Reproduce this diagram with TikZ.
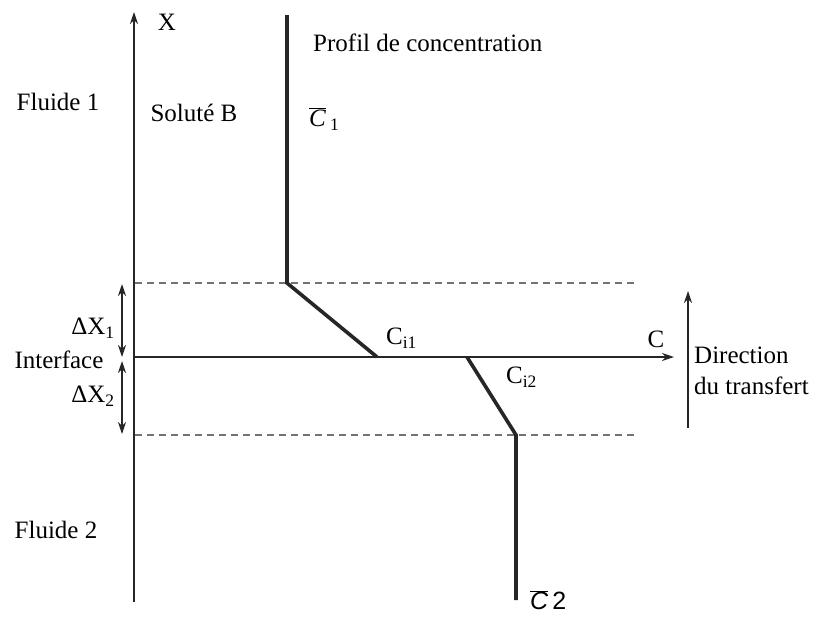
\documentclass[tikz,border=0pt]{standalone}
\usepackage{fontspec}
\setmainfont{Liberation Serif}
\newfontfamily\sansf{Liberation Sans}
\usetikzlibrary{arrows.meta}
\begin{document}
\begin{tikzpicture}[x=1pt,y=-1pt,
  lbl/.style={inner sep=0pt,font=\fontsize{25}{30}\selectfont},
  axisline/.style={line width=1.4pt,draw=black!85},
  profline/.style={line width=3.6pt,draw=black!85},
  dashline/.style={line width=1.1pt,draw=black!55,dash pattern=on 7pt off 5pt},
  tip/.style={-{Stealth[length=12pt,width=8pt]}},
  dtip/.style={{Stealth[length=12pt,width=8pt]}-{Stealth[length=12pt,width=8pt]}}]
\useasboundingbox (0,0) rectangle (816,616);
% coordinates
\coordinate (o) at (134,357);
\coordinate (xtop) at (134,12);
\coordinate (xbot) at (134,602);
\coordinate (ctip) at (674,357);
\coordinate (p0) at (287,15);
\coordinate (p1) at (287,283);
\coordinate (p2) at (377,357);
\coordinate (q1) at (467,357);
\coordinate (q2) at (516,435);
\coordinate (q3) at (516,600);
\coordinate (d1a) at (135,283);
\coordinate (d1b) at (636,283);
\coordinate (d2a) at (135,435);
\coordinate (d2b) at (636,435);
\coordinate (a1t) at (122,284);
\coordinate (a1b) at (122,357);
\coordinate (a2t) at (122,361);
\coordinate (a2b) at (122,434);
\coordinate (dirb) at (688,428);
\coordinate (dirt) at (688,291);
% axes
\draw[axisline,tip] (xbot) -- (xtop);
\draw[axisline,tip] (o) -- (ctip);
% dashed levels
\draw[dashline] (d1a) -- (d1b);
\draw[dashline] (d2a) -- (d2b);
% profile
\draw[profline,line join=miter] (p0) -- (p1) -- (p2);
\draw[profline,line join=miter] (q1) -- (q2) -- (q3);
% delta arrows
\draw[line width=1.2pt,draw=black!85,dtip] (a1t) -- (a1b);
\draw[line width=1.2pt,draw=black!85,dtip] (a2t) -- (a2b);
% direction arrow
\draw[line width=1.4pt,draw=black!85,tip] (dirb) -- (dirt);
% labels
\node[lbl] (lx) at (167,22) {X};
\node[lbl,anchor=west] (lprof) at (313,43) {Profil de concentration};
\node[lbl] (lf1) at (58,102) {Fluide 1};
\node[lbl] (lsol) at (194,113) {Soluté B};
\node[lbl,anchor=west] (lc1) at (309,119) {\ensuremath{\overline{\mbox{\itshape C}}}\,\textsubscript{1}};
\node[lbl] (ldx1) at (93,328) {ΔX\textsubscript{1}};
\node[lbl] (lint) at (59,360) {Interface};
\node[lbl] (ldx2) at (93,396) {ΔX\textsubscript{2}};
\node[lbl,anchor=west] (lci1) at (386,338) {C\textsubscript{i1}};
\node[lbl,anchor=west] (lci2) at (506,377) {C\textsubscript{i2}};
\node[lbl] (lcc) at (656,339) {C};
\node[lbl,anchor=west] (ldir) at (694,355) {Direction};
\node[lbl,anchor=west] (ltr) at (694,386) {du transfert};
\node[lbl] (lf2) at (56,530) {Fluide 2};
\node[lbl,anchor=west] (lc2) at (530,600) {\sansf\ensuremath{\overline{\mbox{\itshape C}}}\,2};
\end{tikzpicture}
\end{document}
